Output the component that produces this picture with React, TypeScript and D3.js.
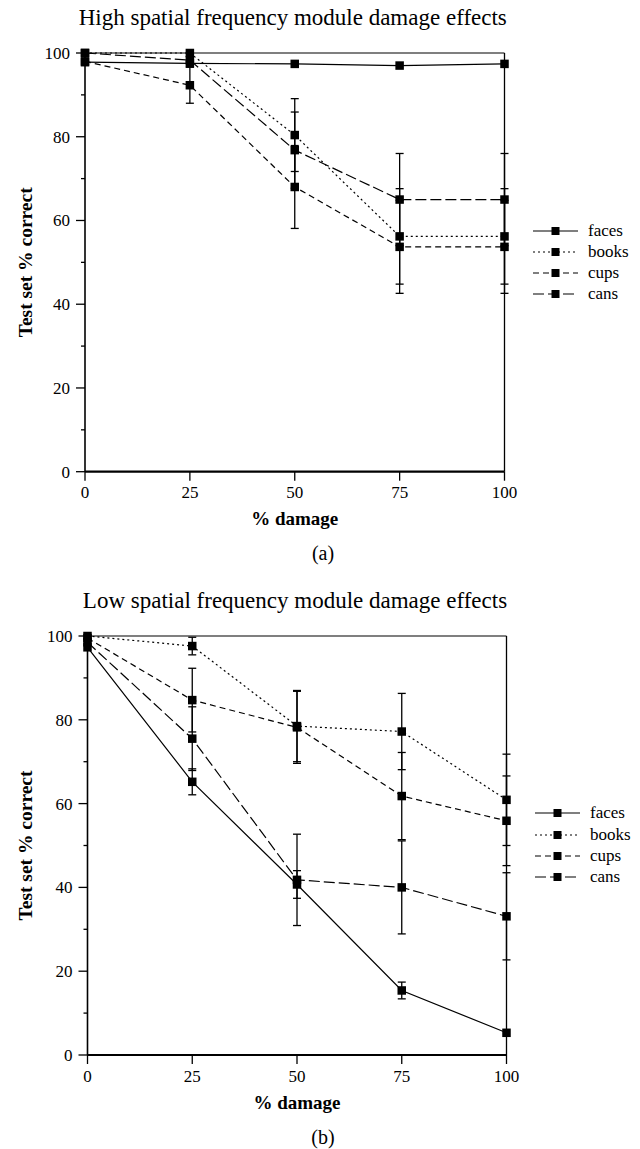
import React from "react";
import * as d3 from "d3";

const damage = [0, 25, 50, 75, 100];
const seriesNames = ["faces", "books", "cups", "cans"];
const xTicks = [0, 25, 50, 75, 100];
const yMajorTicks = [0, 20, 40, 60, 80, 100];
const yMinorTicks = [10, 30, 50, 70, 90];

// High spatial frequency module
const highFaces = [97.8, 97.5, 97.4, 97.0, 97.4];
const highFacesErr = [0, 0, 0, 0, 0];
const highBooks = [100, 100, 80.4, 56.2, 56.2];
const highBooksErr = [0, 0, 8.7, 11.4, 11.4];
const highCups = [98, 92.3, 68, 53.7, 53.7];
const highCupsErr = [0, 4.3, 9.9, 11.1, 11.1];
const highCans = [100, 98.3, 76.8, 65, 65];
const highCansErr = [0, 0, 9.1, 11, 11];

// Low spatial frequency module
const lowFaces = [97.3, 65.2, 40.7, 15.4, 5.3];
const lowFacesErr = [0, 3.1, 3.3, 2, 0];
const lowBooks = [100, 97.6, 78.5, 77.2, 60.9];
const lowBooksErr = [0, 2.1, 8.5, 9.1, 10.9];
const lowCups = [99.5, 84.7, 78.2, 61.8, 55.9];
const lowCupsErr = [0, 7.6, 8.6, 10.4, 10.7];
const lowCans = [98.5, 75.5, 41.8, 40.0, 33.1];
const lowCansErr = [0, 7.6, 10.9, 11.1, 10.4];

const dashes: Record<string, string | undefined> = {
  faces: undefined,
  books: "2,3",
  cups: "6,4",
  cans: "11,4",
};

const FONT = "'Liberation Serif', 'Times New Roman', serif";

type Layout = {
  x0: number; x1: number; y0: number; y1: number;
  titleY: number; title: string; caption: string; captionX: number; captionY: number;
  legendY: number[]; legX0: number; legX1: number; legText: number;
};

function Chart({ L, vals, errs }: { L: Layout; vals: number[][]; errs: number[][] }) {
  const x = d3.scaleLinear().domain([0, 100]).range([L.x0, L.x1]);
  const y = d3.scaleLinear().domain([0, 100]).range([L.y0, L.y1]);
  const line = d3.line<number>().x((_, i) => x(damage[i])).y((d) => y(d));
  const cx = (L.x0 + L.x1) / 2;
  const cy = (L.y0 + L.y1) / 2;
  const ms = 8.5;
  return (
    <g fontFamily={FONT} fill="#000">
      <text x={cx - 2} y={L.titleY} textAnchor="middle" fontSize={23}>{L.title}</text>
      {/* frame */}
      <line x1={x(0)} x2={x(100)} y1={y(100)} y2={y(100)} stroke="#000" strokeWidth={1.1} />
      <line x1={x(100)} x2={x(100)} y1={y(100)} y2={y(0)} stroke="#000" strokeWidth={1.3} />
      {/* series lines */}
      {seriesNames.map((s, k) => (
        <path key={s} d={line(vals[k]) || ""} fill="none" stroke="#000" strokeWidth={1.2}
          strokeDasharray={dashes[s]} />
      ))}
      {/* error bars */}
      {seriesNames.map((s, k) =>
        vals[k].map((v, i) =>
          errs[k][i] > 0 ? (
            <g key={s + i} stroke="#000" strokeWidth={1.3}>
              <line x1={x(damage[i])} x2={x(damage[i])} y1={y(v - errs[k][i])} y2={y(v + errs[k][i])} />
              <line x1={x(damage[i]) - 4} x2={x(damage[i]) + 4} y1={y(v - errs[k][i])} y2={y(v - errs[k][i])} />
              <line x1={x(damage[i]) - 4} x2={x(damage[i]) + 4} y1={y(v + errs[k][i])} y2={y(v + errs[k][i])} />
            </g>
          ) : null
        )
      )}
      {/* markers */}
      {seriesNames.map((s, k) =>
        vals[k].map((v, i) => (
          <rect key={s + "m" + i} x={x(damage[i]) - ms / 2} y={y(v) - ms / 2} width={ms} height={ms} fill="#000" />
        ))
      )}
      {/* axes */}
      <line x1={x(0)} x2={x(0)} y1={y(0)} y2={y(100)} stroke="#000" strokeWidth={1.6} />
      <line x1={x(0)} x2={x(100)} y1={y(0)} y2={y(0)} stroke="#000" strokeWidth={2.2} />
      {yMajorTicks.map((t) => (
        <g key={"ym" + t}>
          <line x1={x(0) - 9} x2={x(0)} y1={y(t)} y2={y(t)} stroke="#000" strokeWidth={1.3} />
          <text x={x(0) - 15} y={y(t) + 6} textAnchor="end" fontSize={17}>{t}</text>
        </g>
      ))}
      {yMinorTicks.map((t) => (
        <line key={"yn" + t} x1={x(0) - 4} x2={x(0)} y1={y(t)} y2={y(t)} stroke="#000" strokeWidth={1.3} />
      ))}
      {xTicks.map((t) => (
        <g key={"xt" + t}>
          <line x1={x(t)} x2={x(t)} y1={y(0)} y2={y(0) + 9} stroke="#000" strokeWidth={1.3} />
          <text x={x(t)} y={y(0) + 26.5} textAnchor="middle" fontSize={17}>{t}</text>
        </g>
      ))}
      <text x={cx} y={y(0) + 53.5} textAnchor="middle" fontSize={19} fontWeight="bold">% damage</text>
      <text transform={`translate(32,${cy}) rotate(-90)`} textAnchor="middle" fontSize={19.5} fontWeight="bold">
        Test set % correct
      </text>
      <text x={L.captionX} y={L.captionY} textAnchor="middle" fontSize={20}>{L.caption}</text>
      {/* legend */}
      {seriesNames.map((s, k) => (
        <g key={"lg" + s}>
          <line x1={L.legX0} x2={L.legX1} y1={L.legendY[k]} y2={L.legendY[k]} stroke="#000" strokeWidth={1.2}
            strokeDasharray={dashes[s]} />
          <rect x={(L.legX0 + L.legX1) / 2 - 4} y={L.legendY[k] - 4} width={8} height={8} fill="#000" />
          <text x={L.legText} y={L.legendY[k] + 5} fontSize={17}>{s}</text>
        </g>
      ))}
    </g>
  );
}

const layoutA: Layout = {
  x0: 85, x1: 504.5, y0: 471.7, y1: 53,
  titleY: 25, title: "High spatial frequency module damage effects",
  caption: "(a)", captionX: 323, captionY: 560,
  legendY: [231, 252, 273, 294], legX0: 533, legX1: 578, legText: 588,
};

const layoutB: Layout = {
  x0: 87.5, x1: 506.5, y0: 1055, y1: 636,
  titleY: 608, title: "Low spatial frequency module damage effects",
  caption: "(b)", captionX: 323, captionY: 1144,
  legendY: [813, 835, 856, 877], legX0: 535, legX1: 580, legText: 590,
};

export default function App() {
  return (
    <svg width={640} height={1149} style={{ position: "absolute", left: 0, top: 0, background: "#fff" }}>
      <rect width={640} height={1149} fill="#fff" />
      <Chart L={layoutA}
        vals={[highFaces, highBooks, highCups, highCans]}
        errs={[highFacesErr, highBooksErr, highCupsErr, highCansErr]} />
      <Chart L={layoutB}
        vals={[lowFaces, lowBooks, lowCups, lowCans]}
        errs={[lowFacesErr, lowBooksErr, lowCupsErr, lowCansErr]} />
    </svg>
  );
}
